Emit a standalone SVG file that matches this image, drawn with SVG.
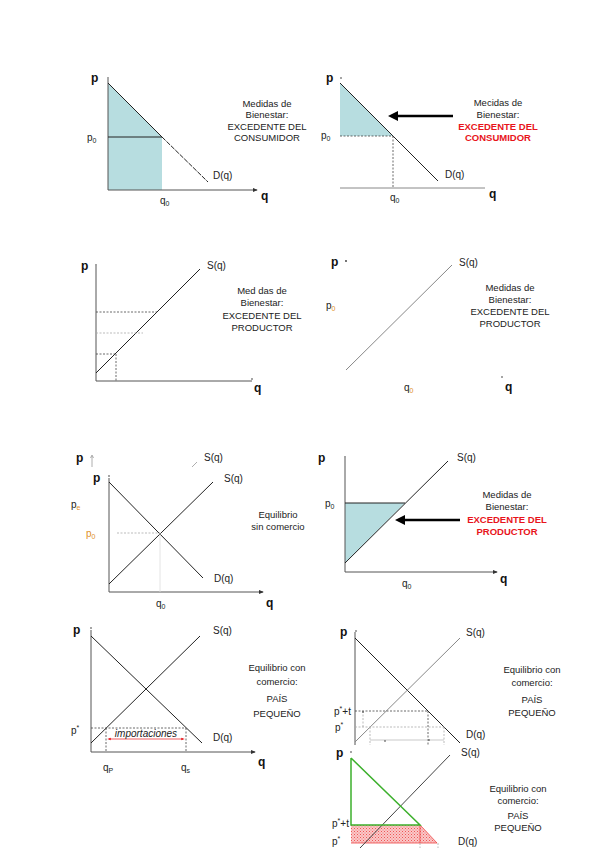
<svg xmlns="http://www.w3.org/2000/svg" width="600" height="848" viewBox="0 0 600 848">
<defs>
<marker id="ah" viewBox="0 0 6 6" refX="5" refY="3" markerWidth="5" markerHeight="5" orient="auto"><path d="M0,0.5 L6,3 L0,5.5 z" fill="#333"/></marker>
<marker id="big" viewBox="0 0 10 10" refX="2" refY="5" markerWidth="4" markerHeight="4" orient="auto-start-reverse"><path d="M0,0 L10,5 L0,10 z" fill="#000"/></marker>
<marker id="ra" viewBox="0 0 6 6" refX="3" refY="3" markerWidth="5" markerHeight="5" orient="auto-start-reverse"><path d="M0,1 L6,3 L0,5 z" fill="#e8141b"/></marker>
<pattern id="hatch" width="3" height="3" patternUnits="userSpaceOnUse"><rect width="3" height="3" fill="#fbc8c8"/><rect x="0" y="0" width="1" height="1" fill="#ee5555"/><rect x="1.5" y="1.5" width="1" height="1" fill="#ee7777"/></pattern>
</defs>
<style>
.ax{stroke:#555;stroke-width:1;fill:none}
.ln{stroke:#222;stroke-width:1;fill:none}
.gr{stroke:#888;stroke-width:1;fill:none}
.dt{stroke:#444;stroke-width:0.8;stroke-dasharray:2,1.5;fill:none}
.lt{stroke:#aaa;stroke-width:0.8;stroke-dasharray:2,1.5;fill:none}
.fl{fill:#b7dde0}
text{font-family:"Liberation Sans",Arial,sans-serif;font-size:10px;fill:#222}
.b{font-weight:bold;font-size:12px;fill:#111}
.c{text-anchor:middle;font-size:9.5px}
.r{fill:#e8141b;font-weight:bold}
.s{font-size:7px}
.o{fill:#e0902a}
</style>
<rect width="600" height="848" fill="#fff"/>

<g id="panel1">
<polygon class="fl" points="108,83 162,137 162,190 108,190"/>
<line class="ax" x1="108" y1="190" x2="108" y2="77"/>
<line class="ax" x1="108" y1="190" x2="257" y2="190" marker-end="url(#ah)"/>
<line class="ln" x1="108" y1="83" x2="162" y2="137"/>
<line class="ln" x1="162" y1="137" x2="208" y2="182" stroke-dasharray="5,1.2"/>
<line class="ln" x1="108" y1="137" x2="162" y2="137"/>
<text class="b" x="91" y="82">p</text>
<text x="87" y="141" fill="#5a4a30">p<tspan class="s" dy="2">0</tspan></text>
<text x="160" y="204">q<tspan class="s" dy="2">0</tspan></text>
<text x="213" y="179">D(q)</text>
<text class="b" x="261" y="200">q</text>
<text class="c" x="267" y="107">Medidas de</text>
<text class="c" x="267" y="118">Bienestar:</text>
<text class="c" x="267" y="130">EXCEDENTE DEL</text>
<text class="c" x="267" y="141">CONSUMIDOR</text>
</g>

<g id="panel2">
<polygon class="fl" points="340,83 393,136 340,136"/>
<line class="ln" x1="340" y1="83" x2="438" y2="181"/>
<line class="dt" x1="340" y1="136" x2="393" y2="136"/>
<line class="dt" x1="393" y1="136" x2="393" y2="188"/>
<line class="gr" x1="340" y1="188" x2="485" y2="188"/>
<circle cx="341" cy="78" r="0.8" fill="#333"/>
<text class="b" x="326" y="82">p</text>
<text x="321" y="139" fill="#5a4a30">p<tspan class="s" dy="2">0</tspan></text>
<text x="390" y="201">q<tspan class="s" dy="2">0</tspan></text>
<text x="445" y="178">D(q)</text>
<text class="b" x="489" y="198">q</text>
<line x1="453" y1="116" x2="396" y2="116" stroke="#000" stroke-width="2.5" marker-end="url(#big)"/>
<text class="c" x="498" y="106">Mecidas de</text>
<text class="c" x="498" y="118">Bienestar:</text>
<text class="c r" x="498" y="130">EXCEDENTE DEL</text>
<text class="c r" x="498" y="141">CONSUMIDOR</text>
</g>

<g id="panel3">
<line class="ax" x1="96" y1="381" x2="96" y2="266"/>
<line class="ax" x1="96" y1="381" x2="252" y2="381"/>
<circle cx="96" cy="265" r="0.8" fill="#333"/>
<circle cx="252" cy="379" r="0.8" fill="#333"/>
<line class="ln" x1="96" y1="373" x2="200" y2="269"/>
<line class="dt" x1="96" y1="312" x2="157" y2="312"/>
<line class="lt" x1="96" y1="333" x2="143" y2="333"/>
<line class="dt" x1="96" y1="354" x2="115" y2="354"/>
<line class="dt" x1="116" y1="354" x2="116" y2="381"/>
<text class="b" x="81" y="270">p</text>
<text x="207" y="269">S(q)</text>
<text class="b" x="254" y="392">q</text>
<text class="c" x="262" y="294">Med das de</text>
<text class="c" x="262" y="306">Bienestar:</text>
<text class="c" x="262" y="319">EXCEDENTE DEL</text>
<text class="c" x="262" y="331">PRODUCTOR</text>
</g>

<g id="panel4">
<line class="gr" x1="346" y1="370" x2="452" y2="265" stroke="#777"/>
<circle cx="346" cy="261" r="0.9" fill="#333"/>
<circle cx="502" cy="377" r="0.8" fill="#333"/>
<text class="b" x="331" y="266">p</text>
<text x="459" y="266">S(q)</text>
<text x="326" y="309">p<tspan class="s o" dy="2">0</tspan></text>
<text x="404" y="391">q<tspan class="s o" dy="2">0</tspan></text>
<text class="b" x="505" y="391">q</text>
<text class="c" x="510" y="291">Medidas de</text>
<text class="c" x="510" y="303">Bienestar:</text>
<text class="c" x="510" y="315">EXCEDENTE DEL</text>
<text class="c" x="510" y="327">PRODUCTOR</text>
</g>

<g id="panel5">
<line x1="92" y1="467" x2="92" y2="456" stroke="#999" stroke-width="0.8"/>
<path d="M90.5,458 L92,455 L93.5,458" fill="none" stroke="#999" stroke-width="0.8"/>
<line x1="192" y1="467" x2="197" y2="462" stroke="#999" stroke-width="0.8"/>
<text class="b" x="76" y="462">p</text>
<text x="204" y="461">S(q)</text>
<line class="ax" x1="109" y1="592" x2="109" y2="478"/>
<line class="ax" x1="109" y1="592" x2="263" y2="592" marker-end="url(#ah)"/>
<circle cx="109" cy="476" r="0.8" fill="#333"/>
<line class="ln" x1="109" y1="482" x2="203" y2="578" stroke="#333"/>
<line class="ln" x1="109" y1="584" x2="213" y2="482"/>
<line class="lt" x1="117" y1="533" x2="160" y2="533"/>
<line x1="160" y1="533" x2="160" y2="592" stroke="#ddd" stroke-width="0.8"/>
<text class="b" x="93" y="482">p</text>
<text x="71" y="508">p<tspan class="s o" dy="2">e</tspan></text>
<text x="86" y="537" class="o">p<tspan class="s" dy="2">0</tspan></text>
<text x="224" y="482">S(q)</text>
<text x="214" y="582">D(q)</text>
<text x="156" y="607">q<tspan class="s" dy="2">0</tspan></text>
<text class="b" x="266" y="607">q</text>
<text class="c" x="278" y="518">Equilibrio</text>
<text class="c" x="278" y="530">sin comercio</text>
</g>

<g id="panel6">
<polygon class="fl" points="345,503 405,503 345,563"/>
<line class="ax" x1="345" y1="572" x2="345" y2="458"/>
<line class="ax" x1="345" y1="572" x2="497" y2="572" marker-end="url(#ah)"/>
<circle cx="345" cy="457" r="0.8" fill="#333"/>
<line class="ln" x1="345" y1="563" x2="448" y2="461"/>
<line class="ln" x1="345" y1="503" x2="405" y2="503"/>
<text class="b" x="318" y="462">p</text>
<text x="457" y="461">S(q)</text>
<text x="325" y="507">p<tspan class="s" dy="2">0</tspan></text>
<text x="402" y="587">q<tspan class="s" dy="2">0</tspan></text>
<text class="b" x="500" y="583">q</text>
<line x1="460" y1="520" x2="403" y2="520" stroke="#000" stroke-width="2.5" marker-end="url(#big)"/>
<text class="c" x="507" y="498">Medidas de</text>
<text class="c" x="507" y="510">Bienestar:</text>
<text class="c r" x="507" y="523">EXCEDENTE DEL</text>
<text class="c r" x="507" y="535">PRODUCTOR</text>
</g>

<g id="panel7">
<line class="ax" x1="91" y1="752" x2="91" y2="630"/>
<line class="ax" x1="91" y1="752" x2="255" y2="752" marker-end="url(#ah)"/>
<circle cx="91" cy="628" r="0.8" fill="#333"/>
<line class="ln" x1="91" y1="636" x2="202" y2="743" stroke="#444"/>
<line class="ln" x1="91" y1="743" x2="200" y2="636" stroke="#444"/>
<line class="dt" x1="91" y1="728" x2="186" y2="728"/>
<line class="dt" x1="106" y1="728" x2="106" y2="752"/>
<line class="dt" x1="186" y1="728" x2="186" y2="752"/>
<line x1="109" y1="739" x2="183" y2="739" stroke="#e8141b" stroke-width="0.7" marker-start="url(#ra)" marker-end="url(#ra)"/>
<text x="146" y="737" text-anchor="middle" font-size="7.5px" font-style="italic" fill="#e8141b">importaciones</text>
<text class="b" x="73" y="634">p</text>
<text x="71" y="734">p<tspan class="s" dy="-4">*</tspan></text>
<text x="103" y="771">q<tspan class="s" dy="2">P</tspan></text>
<text x="181" y="771">q<tspan class="s" dy="2">s</tspan></text>
<text x="213" y="634">S(q)</text>
<text x="213" y="741">D(q)</text>
<text class="b" x="258" y="766">q</text>
<text class="c" x="277" y="671" font-size="10.5px">Equilibrio con</text>
<text class="c" x="277" y="685" font-size="10.5px">comercio:</text>
<text class="c" x="277" y="702" font-size="10.5px">PAÍS</text>
<text class="c" x="277" y="717" font-size="10.5px">PEQUEÑO</text>
</g>

<g id="panel8">
<line class="ax" x1="355" y1="745" x2="355" y2="632"/>
<circle cx="356" cy="631" r="0.8" fill="#333"/>
<line class="ln" x1="355" y1="638" x2="460" y2="743"/>
<line class="gr" x1="355" y1="742" x2="460" y2="638"/>
<line class="dt" x1="355" y1="711" x2="428" y2="711"/>
<line class="lt" x1="355" y1="727" x2="444" y2="727"/>
<line class="lt" x1="363" y1="711" x2="363" y2="727"/>
<line class="lt" x1="370" y1="727" x2="370" y2="745"/>
<line class="dt" x1="428" y1="711" x2="428" y2="745"/>
<line class="lt" x1="444" y1="727" x2="444" y2="745"/>
<line x1="370" y1="740" x2="444" y2="740" stroke="#bbb" stroke-width="0.8"/>
<circle cx="363" cy="712" r="0.8" fill="#333"/>
<circle cx="385" cy="741" r="0.8" fill="#333"/>
<circle cx="429" cy="740" r="0.8" fill="#333"/>
<text class="b" x="340" y="636">p</text>
<text x="334" y="715">p<tspan class="s" dy="-4">*</tspan><tspan dy="4">+t</tspan></text>
<text x="335" y="731">p<tspan class="s" dy="-4">*</tspan></text>
<text x="466" y="636">S(q)</text>
<text x="466" y="738">D(q)</text>
<text class="c" x="532" y="673">Equilibrio con</text>
<text class="c" x="532" y="686">comercio:</text>
<text class="c" x="532" y="703" font-size="10.5px">PAÍS</text>
<text class="c" x="532" y="716" font-size="10.5px">PEQUEÑO</text>
</g>

<g id="panel9">
<rect x="325" y="745" width="275" height="103" fill="#fff"/>
<polygon points="351,825 420,825 437,843 351,843" fill="url(#hatch)"/>
<polyline points="351,843 437,843 420,825 420,843" fill="none" stroke="#ee4444" stroke-width="0.8"/>
<line class="lt" x1="420" y1="843" x2="420" y2="848"/>
<line class="lt" x1="438" y1="843" x2="438" y2="848"/>
<line x1="360" y1="848" x2="450" y2="755" stroke="#444" stroke-width="1"/>
<polyline points="351,758 351,825 420,825 351,758" fill="none" stroke="#3cb02c" stroke-width="1.5"/>
<circle cx="351" cy="752" r="0.8" fill="#333"/>
<text class="b" x="336" y="757">p</text>
<text x="461" y="756">S(q)</text>
<text x="332" y="827">p<tspan class="s" dy="-4">*</tspan><tspan dy="4">+t</tspan></text>
<text x="332" y="845">p<tspan class="s" dy="-4">*</tspan></text>
<text x="458" y="845">D(q)</text>
<text class="c" x="518" y="792" fill="#444">Equilibrio con</text>
<text class="c" x="518" y="804" fill="#444">comercio:</text>
<text class="c" x="518" y="819" fill="#444">PAÍS</text>
<text class="c" x="518" y="831" fill="#444">PEQUEÑO</text>
</g>
</svg>
